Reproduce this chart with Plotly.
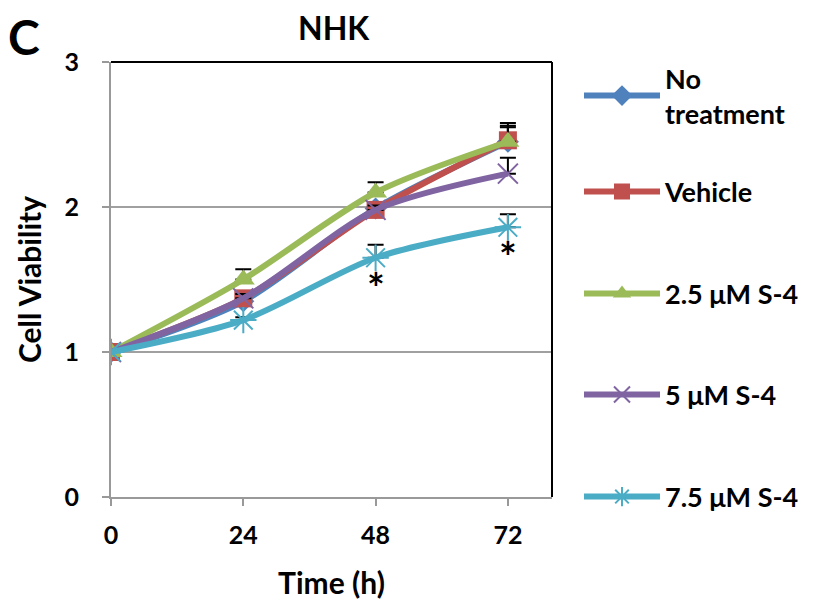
import plotly.graph_objects as go

time_h = [0, 24, 48, 72]
series_names = ["No<br>treatment", "Vehicle", "2.5 μM S-4", "5 μM S-4", "7.5 μM S-4"]
no_treatment = [1.0, 1.35, 1.99, 2.45]
vehicle = [1.0, 1.37, 1.98, 2.46]
s4_2_5 = [1.0, 1.50, 2.10, 2.45]
s4_5 = [1.0, 1.37, 1.98, 2.23]
s4_7_5 = [1.0, 1.22, 1.65, 1.86]
err_no_treatment = [0.0, 0.03, 0.03, 0.10]
err_vehicle = [0.0, 0.03, 0.03, 0.12]
err_2_5 = [0.0, 0.07, 0.07, 0.11]
err_5 = [0.0, 0.03, 0.03, 0.11]
err_7_5 = [0.0, 0.02, 0.09, 0.09]
sig_x = [48, 72]
sig_y = [1.44, 1.655]
x_ticks = [0, 24, 48, 72]
y_ticks = [0, 1, 2, 3]

values = [no_treatment, vehicle, s4_2_5, s4_5, s4_7_5]
errors = [err_no_treatment, err_vehicle, err_2_5, err_5, err_7_5]
colors = ["#4F81BD", "#C0504D", "#9BBB59", "#8064A2", "#4BACC6"]
symbols = ["diamond", "square", "triangle-up", "x-thin-open", "asterisk-open"]
msizes = [17, 18, 20, 20, 22]
legend_ids = ["legend", "legend2", "legend3", "legend4", "legend5"]

FONT = "Lato"
OFF = 8  # default page body margin
W, H = 817 - OFF, 600 - OFF
L, T = 111 - OFF, 62 - OFF
R, B = 265, 103
pw, ph = W - L - R, H - T - B

# legend entry centres (page px)
legend_px = [96, 192, 294, 395, 497]


def px_y(page_y):
    return (H - B - (page_y - OFF)) / ph


def px_x(page_x):
    return (page_x - OFF - L) / pw


fig = go.Figure()
for name, vals, err, col, sym, ms, lg in zip(series_names, values, errors, colors, symbols, msizes, legend_ids):
    open_sym = sym.endswith("open")
    fig.add_trace(go.Scatter(
        x=time_h, y=vals, name=name, mode="lines+markers",
        line=dict(color=col, width=6, shape="spline", smoothing=0.8),
        marker=dict(symbol=sym, size=ms, color=col,
                    line=dict(color=col, width=2 if open_sym else 0)),
        error_y=dict(type="data", symmetric=False, array=err,
                     arrayminus=[0] * len(err), color="black", thickness=2, width=8),
        legend=lg,
    ))

for sx, sy in zip(sig_x, sig_y):
    fig.add_annotation(x=sx, y=sy, text="<b>*</b>", showarrow=False,
                       font=dict(family=FONT, size=42, color="black"),
                       xanchor="center", yanchor="middle")

legend_layout = {}
for lg, py in zip(legend_ids, legend_px):
    legend_layout[lg] = dict(
        x=px_x(579), y=px_y(py), xanchor="left", yanchor="middle",
        font=dict(family=FONT, size=27, color="black", weight="bold"),
        itemwidth=76, bgcolor="rgba(0,0,0,0)", borderwidth=0,
    )

fig.update_layout(
    width=W, height=H,
    margin=dict(l=L, r=R, t=T, b=B, autoexpand=False),
    paper_bgcolor="white", plot_bgcolor="white",
    font=dict(family=FONT, color="black"),
    showlegend=True,
    xaxis=dict(range=[0, 80], tickvals=x_ticks, ticks="outside", ticklen=7, tickwidth=2,
               tickcolor="#999999", showline=True, linecolor="#999999", linewidth=2,
               showgrid=False, zeroline=False, automargin=False,
               tickfont=dict(family=FONT, size=25, color="black", weight="bold"),
               ticklabelstandoff=8,
               title=dict(text="<b>Time (h)</b>", font=dict(family=FONT, size=30, color="black"),
                          standoff=28)),
    yaxis=dict(range=[0, 3], tickvals=y_ticks, ticks="outside", ticklen=7, tickwidth=2,
               tickcolor="#999999", showline=True, linecolor="#999999", linewidth=2,
               showgrid=True, gridcolor="#A0A0A0", gridwidth=2, zeroline=False, automargin=False,
               tickfont=dict(family=FONT, size=25, color="black", weight="bold"),
               ticklabelstandoff=18,
               title=dict(text="<b>Cell Viability</b>", font=dict(family=FONT, size=30, color="black"),
                          standoff=14)),
    **legend_layout,
)

# top and right plot border (black)
fig.add_shape(type="line", xref="x domain", yref="y domain", x0=0, x1=1, y0=1, y1=1,
              line=dict(color="black", width=2))
fig.add_shape(type="line", xref="x domain", yref="y domain", x0=1, x1=1, y0=0, y1=1,
              line=dict(color="black", width=2))

# chart title
fig.add_annotation(text="<b>NHK</b>", xref="paper", yref="paper", x=px_x(334), y=px_y(28),
                   showarrow=False, xanchor="center", yanchor="middle",
                   font=dict(family=FONT, size=32, color="black"))

# panel letter
fig.add_annotation(text="<b>C</b>", xref="paper", yref="paper", x=px_x(24), y=px_y(37),
                   showarrow=False, xanchor="center", yanchor="middle",
                   font=dict(family=FONT, size=48, color="black"))

fig.write_html("out.html")
